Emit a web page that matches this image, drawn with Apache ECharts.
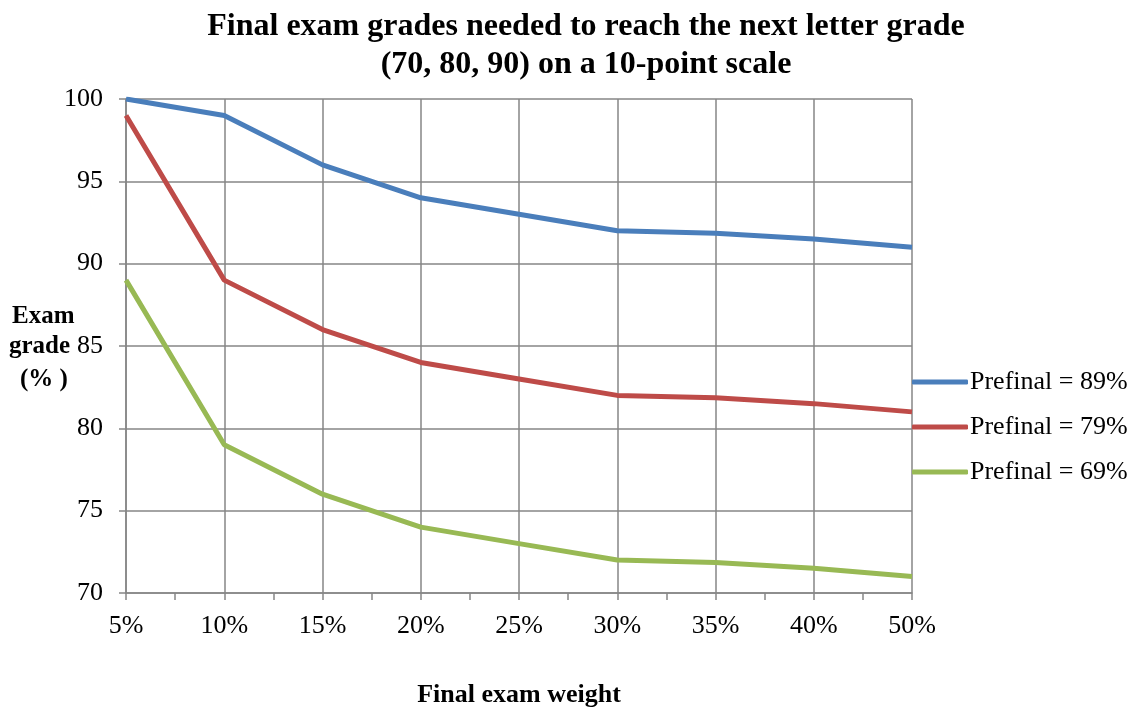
<!DOCTYPE html>
<html><head><meta charset="utf-8">
<script src="https://cdn.jsdelivr.net/npm/echarts@6/dist/echarts.min.js"></script>
<style>html,body{margin:0;padding:0;background:#fff}#c{width:1136px;height:709px}</style>
</head><body><div id="c"></div>
<script>
var categories = ['5%','10%','15%','20%','25%','30%','35%','40%','50%'];
var seriesNames = ['Prefinal = 89%','Prefinal = 79%','Prefinal = 69%'];
var prefinal89 = [100, 99, 96, 94, 93, 92, 91.85, 91.5, 91];
var prefinal79 = [99, 89, 86, 84, 83, 82, 81.85, 81.5, 81];
var prefinal69 = [89, 79, 76, 74, 73, 72, 71.85, 71.5, 71];
var colors = ['#4a7ebb', '#be4b48', '#98b954'];

var font = '"Liberation Serif","Times New Roman",serif';
function pts(arr){ return arr.map(function(v,i){ return [i, v]; }); }
var chart = echarts.init(document.getElementById('c'));
var dataSets = [prefinal89, prefinal79, prefinal69];
chart.setOption({
  animation: false,
  title: {
    text: 'Final exam grades needed to reach the next letter grade\n(70, 80, 90) on a 10-point scale',
    left: 581, top: 3, textAlign: 'center',
    textStyle: { fontFamily: font, fontWeight: 'bold', fontSize: 32, lineHeight: 38, color: '#000' }
  },
  grid: { left: 126, right: 224, top: 99, bottom: 116, containLabel: false, outerBoundsMode: 'none' },
  legend: {
    orient: 'vertical', left: 912, top: 369, padding: 0, itemWidth: 56, itemHeight: 5, itemGap: 19,
    icon: 'roundRect',
    textStyle: { fontFamily: font, fontSize: 26, color: '#000', padding: [0,0,0,-3] },
    data: seriesNames
  },
  xAxis: {
    type: 'value', min: 0, max: categories.length - 1, interval: 1,
    axisLine: { show: true, lineStyle: { color: '#868686', width: 1.5 } },
    axisTick: { show: true, length: 7, lineStyle: { color: '#868686', width: 1.5 } },
    minorTick: { show: true, splitNumber: 2, length: 7, lineStyle: { color: '#868686', width: 1.5 } },
    splitLine: { show: true, lineStyle: { color: '#868686', width: 1.5 } },
    axisLabel: { fontFamily: font, fontSize: 26, color: '#000', margin: 20,
      formatter: function(v){ return categories[v] || ''; } },
    name: 'Final exam weight', nameLocation: 'middle', nameGap: 89,
    nameTextStyle: { fontFamily: font, fontWeight: 'bold', fontSize: 26, color: '#000' }
  },
  yAxis: {
    type: 'value', min: 70, max: 100, interval: 5,
    axisLine: { show: true, lineStyle: { color: '#868686', width: 1.5 } },
    axisTick: { show: true, length: 7, lineStyle: { color: '#868686', width: 1.5 } },
    splitLine: { show: true, lineStyle: { color: '#868686', width: 1.5 } },
    axisLabel: { fontFamily: font, fontSize: 26, color: '#000', margin: 23 }
  },
  graphic: [
    { type: 'text', left: 12, top: 304, style: { text: 'Exam', font: 'bold 25px ' + font, fill: '#000' } },
    { type: 'text', left: 9, top: 334, style: { text: 'grade', font: 'bold 25px ' + font, fill: '#000' } },
    { type: 'text', left: 20, top: 367, style: { text: '(% )', font: 'bold 25px ' + font, fill: '#000' } }
  ],
  series: dataSets.map(function(d, i){
    return {
      name: seriesNames[i], type: 'line', data: pts(d), symbol: 'none',
      lineStyle: { color: colors[i], width: 5 }, itemStyle: { color: colors[i] },
      z: 3 - i
    };
  })
});
</script></body></html>
